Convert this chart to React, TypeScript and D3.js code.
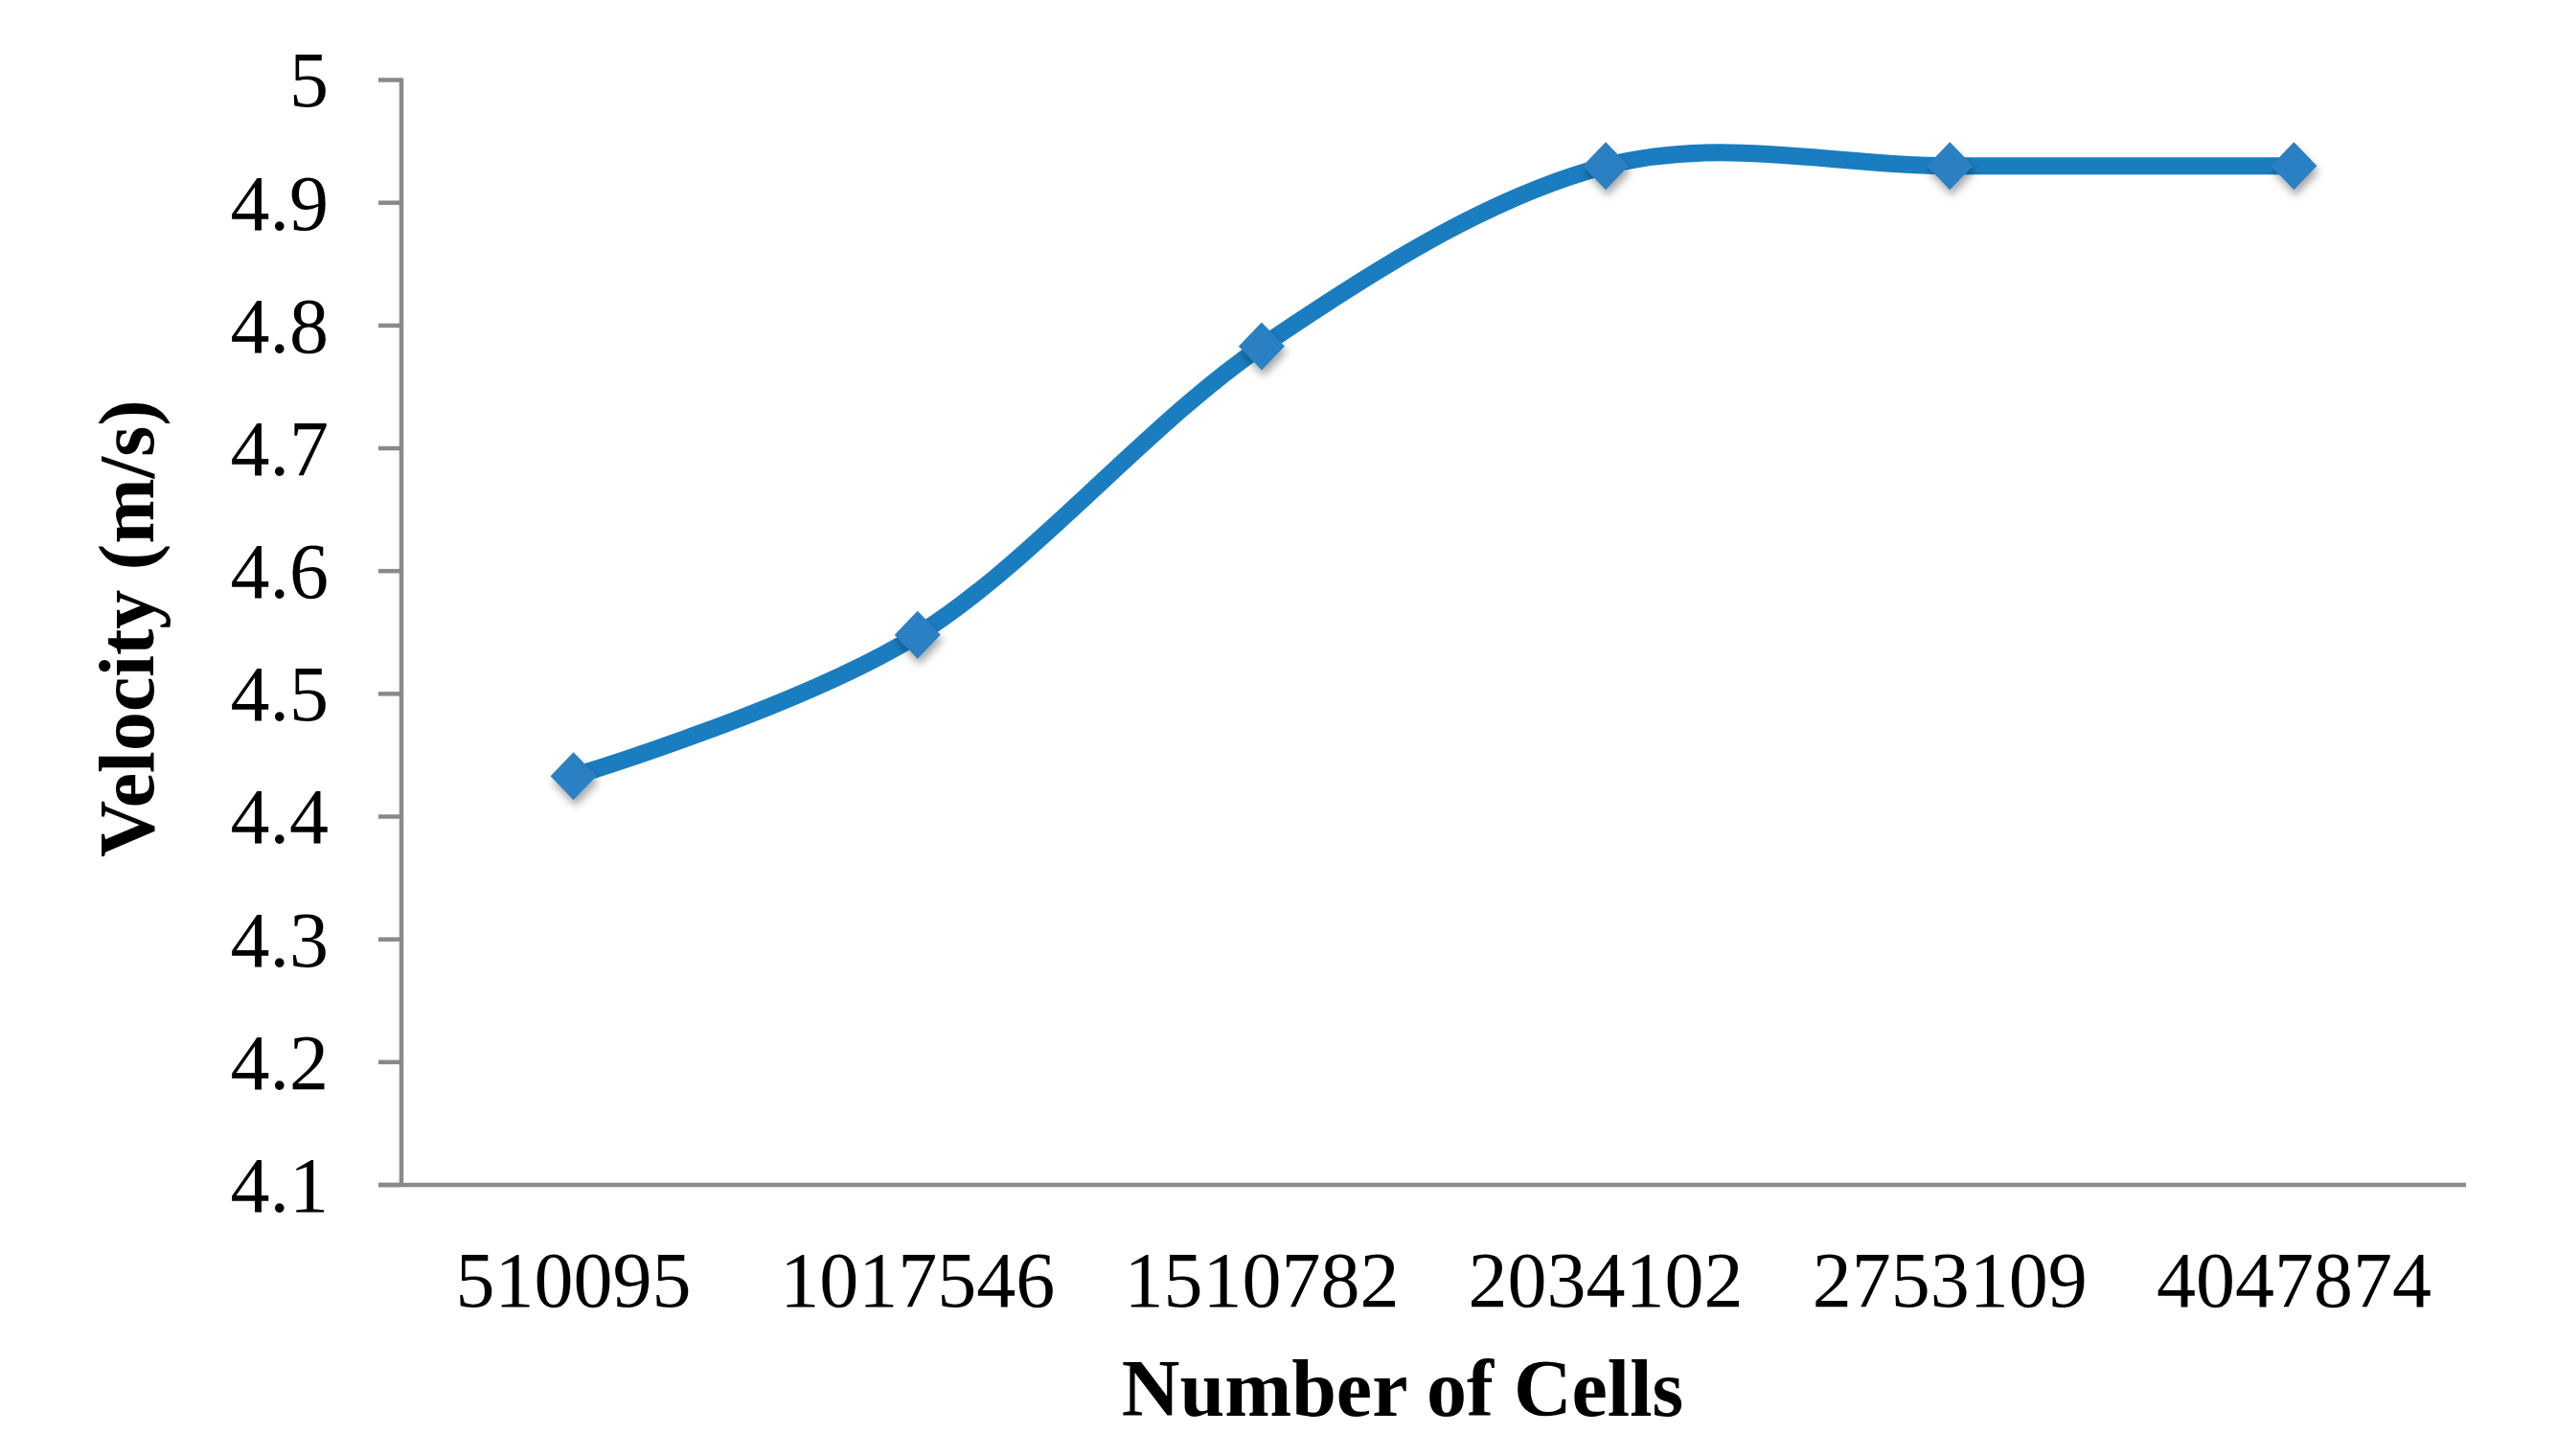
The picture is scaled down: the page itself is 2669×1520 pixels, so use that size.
import React from "react";
import * as d3 from "d3";

const categories = ["510095", "1017546", "1510782", "2034102", "2753109", "4047874"];
const velocity = [4.433, 4.548, 4.783, 4.93, 4.93, 4.93];
const yTicks = [4.1, 4.2, 4.3, 4.4, 4.5, 4.6, 4.7, 4.8, 4.9, 5];
const xTitle = "Number of Cells";
const yTitle = "Velocity (m/s)";

const W = 2669;
const H = 1520;
const plot = { left: 419, right: 2574, top: 83.5, bottom: 1237 };
const FONT = "'Liberation Serif', 'Times New Roman', serif";
const AXIS = "#898989";
const LINE = "#1a7dc0";
const MARK = "#2a80c3";

export default function App() {
  const x = d3.scaleBand<string>().domain(categories).range([plot.left, plot.right]);
  const y = d3.scaleLinear().domain([4.1, 5]).range([plot.bottom, plot.top]);
  const cx = (c: string) => (x(c) as number) + x.bandwidth() / 2;
  const pts: [number, number][] = categories.map((c, i) => [cx(c), y(velocity[i])]);
  const lineGen = d3.line().curve(d3.curveCardinal.tension(0));
  const path = lineGen(pts) || "";
  const fmt = (v: number) => (Math.abs(v - 5) < 1e-9 ? "5" : d3.format(".1f")(v));
  const hw = 24;
  const hh = 25;

  return (
    <svg
      width={W}
      height={H}
      style={{ position: "absolute", left: 0, top: 0, background: "#fff" }}
      xmlns="http://www.w3.org/2000/svg"
    >
      <defs>
        <filter id="mshadow" x="-50%" y="-50%" width="200%" height="200%">
          <feDropShadow dx="2" dy="6" stdDeviation="4" floodColor="#000" floodOpacity="0.35" />
        </filter>
      </defs>
      <rect x={0} y={0} width={W} height={H} fill="#fff" />
      {/* y ticks */}
      {yTicks.map((t) => (
        <g key={t}>
          <line x1={plot.left - 24} x2={plot.left} y1={y(t)} y2={y(t)} stroke={AXIS} strokeWidth={4.5} />
          <text
            x={343}
            y={y(t)}
            dy="0.34em"
            textAnchor="end"
            fontFamily={FONT}
            fontSize={82}
            fill="#000"
          >
            {fmt(t)}
          </text>
        </g>
      ))}
      {/* axes */}
      <line x1={plot.left} x2={plot.left} y1={plot.top - 2} y2={plot.bottom} stroke={AXIS} strokeWidth={4.5} />
      <line x1={plot.left - 24} x2={plot.right} y1={plot.bottom} y2={plot.bottom} stroke={AXIS} strokeWidth={4.5} />
      {/* x labels */}
      {categories.map((c) => (
        <text key={c} x={cx(c)} y={1364} textAnchor="middle" fontFamily={FONT} fontSize={82} fill="#000">
          {c}
        </text>
      ))}
      {/* titles */}
      <text x={1464} y={1478} textAnchor="middle" fontFamily={FONT} fontWeight="bold" fontSize={84} fill="#000">
        {xTitle}
      </text>
      <text
        transform={`translate(160, ${(plot.top + plot.bottom) / 2 - 4}) rotate(-90)`}
        textAnchor="middle"
        fontFamily={FONT}
        fontWeight="bold"
        fontSize={82}
        fill="#000"
      >
        {yTitle}
      </text>
      {/* series */}
      <path d={path} fill="none" stroke={LINE} strokeWidth={18} strokeLinejoin="round" />
      {pts.map(([px, py], i) => (
        <path
          key={i}
          d={`M${px},${py - hh}L${px + hw},${py}L${px},${py + hh}L${px - hw},${py}Z`}
          fill={MARK}
          filter="url(#mshadow)"
        />
      ))}
    </svg>
  );
}
